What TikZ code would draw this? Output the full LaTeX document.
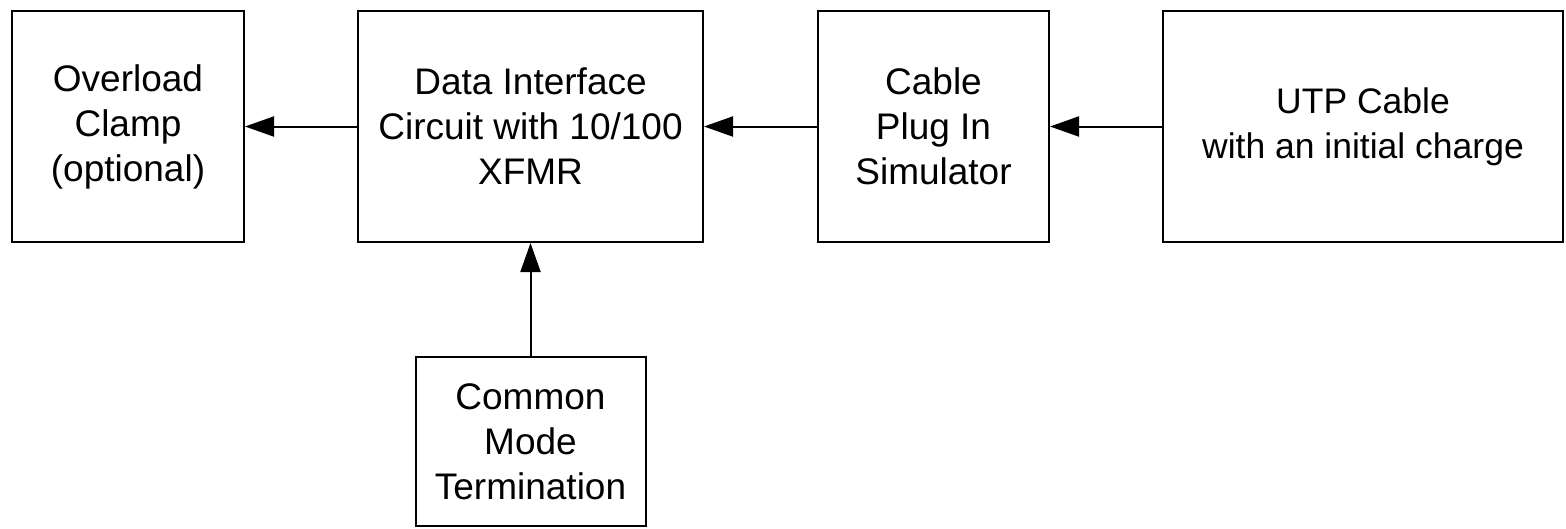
\documentclass[tikz,border=0pt]{standalone}
\usepackage{fontspec}
\setmainfont{Liberation Sans}
\usetikzlibrary{arrows.meta}
\begin{document}
\begin{tikzpicture}[x=1pt,y=-1pt,
  blk/.style={draw=black,line width=2pt,inner sep=0pt,align=center,
    font=\fontsize{37}{45}\selectfont},
  conn/.style={line width=2pt,-{Triangle[length=29pt,width=20pt]}}]
\useasboundingbox (0,0) rectangle (1566,528);
\node[blk,minimum width=232pt,minimum height=231pt] (over) at (128,126.5) {Overload\\Clamp\\(optional)};
\node[blk,minimum width=345pt,minimum height=231pt] (data) at (530.5,126.5) {Data Interface\\Circuit with 10/100\\XFMR};
\node[blk,minimum width=231pt,minimum height=231pt] (cable) at (933.5,126.5) {Cable\\Plug In\\Simulator};
\node[blk,minimum width=400pt,minimum height=231pt,font=\fontsize{35.5}{45}\selectfont] (utp) at (1363,126.5) {UTP Cable\\with an initial charge};
\node[blk,minimum width=230pt,minimum height=169pt] (cm) at (530.5,441.5) {Common\\Mode\\Termination};
\draw[conn] (utp.west) -- (cable.east);
\draw[conn] (cable.west) -- (data.east);
\draw[conn] (data.west) -- (over.east);
\draw[conn] (cm.north) -- (data.south);
\end{tikzpicture}
\end{document}
